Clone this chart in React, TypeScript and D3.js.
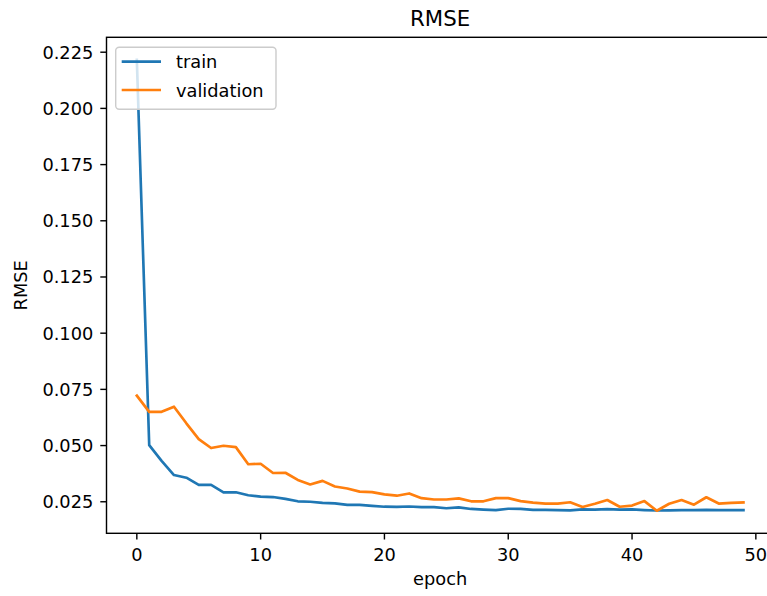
import * as d3 from 'd3'

// RMSE per epoch
const epochs = d3.range(0, 50)
const train = [
	0.2216, 0.0502, 0.0432, 0.0369, 0.0357, 0.0325, 0.0325, 0.0292, 0.0292, 0.0279,
	0.0273, 0.0271, 0.0263, 0.0252, 0.025, 0.0245, 0.0243, 0.0236, 0.0236, 0.0232,
	0.0228, 0.0227, 0.0229, 0.0226, 0.0226, 0.0221, 0.0225, 0.0218, 0.0215, 0.0213,
	0.0219, 0.0218, 0.0214, 0.0214, 0.0213, 0.0212, 0.0216, 0.0215, 0.0217, 0.0215,
	0.0216, 0.0213, 0.0211, 0.0212, 0.0213, 0.0213, 0.0214, 0.0213, 0.0213, 0.0213,
]
const validation = [
	0.0722, 0.065, 0.065, 0.0673, 0.0599, 0.0529, 0.0489, 0.0499, 0.0493, 0.0417,
	0.0419, 0.0378, 0.0379, 0.0347, 0.0327, 0.0343, 0.0318, 0.0309, 0.0295, 0.0293,
	0.0283, 0.0277, 0.0287, 0.0266, 0.026, 0.026, 0.0265, 0.0252, 0.0252, 0.0266,
	0.0266, 0.0253, 0.0246, 0.0242, 0.0242, 0.0248, 0.0227, 0.0241, 0.0258, 0.0228,
	0.0233, 0.0253, 0.021, 0.0241, 0.0258, 0.0237, 0.027, 0.0242, 0.0245, 0.0247,
]
const xTicks = [0, 10, 20, 30, 40, 50]
const yTicks = [0.025, 0.05, 0.075, 0.1, 0.125, 0.15, 0.175, 0.2, 0.225]
const seriesNames = ['train', 'validation']
const colors = ['#1f77b4', '#ff7f0e']

const width = 767
const height = 596
const left = 106.5
const right = 773.8
const top = 37.3
const bottom = 533.3
const font = 'DejaVu Sans, sans-serif'
const fs = 17.8

export default function App() {
	const allVals = train.concat(validation)
	const [ymin, ymax] = d3.extent(allVals) as [number, number]
	const ypad = (ymax - ymin) * 0.05
	const xpad = (d3.max(epochs)! - d3.min(epochs)!) * 0.05

	const x = d3
		.scaleLinear()
		.domain([d3.min(epochs)! - xpad, d3.max(epochs)! + xpad])
		.range([left, right])
	const y = d3
		.scaleLinear()
		.domain([ymin - ypad, ymax + ypad])
		.range([bottom, top])

	const line = d3
		.line<number>()
		.x((_, i) => x(epochs[i]))
		.y((d) => y(d))

	const series = [train, validation]
	const tickLen = 6.2

	return (
		<svg
			width={width}
			height={height}
			style={{ position: 'absolute', left: 0, top: 0, background: '#fff' }}
			fontFamily={font}
		>
			<rect x={0} y={0} width={width} height={height} fill="#fff" />
			<defs>
				<clipPath id="plot">
					<rect x={left} y={top} width={right - left} height={bottom - top} />
				</clipPath>
			</defs>

			{/* lines */}
			<g clipPath="url(#plot)">
				{series.map((s, i) => (
					<path
						key={seriesNames[i]}
						d={line(s) || ''}
						fill="none"
						stroke={colors[i]}
						strokeWidth={2.67}
						strokeLinejoin="round"
						strokeLinecap="square"
					/>
				))}
			</g>

			{/* spines */}
			<rect
				x={left}
				y={top}
				width={right - left}
				height={bottom - top}
				fill="none"
				stroke="#000"
				strokeWidth={1.42}
			/>

			{/* x axis */}
			{xTicks.map((t) => (
				<g key={'x' + t} transform={`translate(${x(t)},0)`}>
					<line y1={bottom} y2={bottom + tickLen} stroke="#000" strokeWidth={1.42} />
					<text y={561} textAnchor="middle" fontSize={fs} fill="#000">
						{t}
					</text>
				</g>
			))}
			<text x={(left + right) / 2} y={585} textAnchor="middle" fontSize={fs} fill="#000">
				epoch
			</text>

			{/* y axis */}
			{yTicks.map((t) => (
				<g key={'y' + t} transform={`translate(0,${y(t)})`}>
					<line x1={left - tickLen} x2={left} stroke="#000" strokeWidth={1.42} />
					<text x={left - tickLen - 7} y={6.5} textAnchor="end" fontSize={fs} fill="#000">
						{t.toFixed(3)}
					</text>
				</g>
			))}
			<text
				transform={`translate(27,${(top + bottom) / 2}) rotate(-90)`}
				textAnchor="middle"
				fontSize={fs}
				fill="#000"
			>
				RMSE
			</text>

			{/* title */}
			<text x={(left + right) / 2} y={26} textAnchor="middle" fontSize={21.3} fill="#000">
				RMSE
			</text>

			{/* legend */}
			<rect
				x={115.7}
				y={47.3}
				width={160.3}
				height={62}
				rx={3.5}
				fill="#fff"
				fillOpacity={0.8}
				stroke="#cccccc"
				strokeWidth={1.42}
			/>
			{seriesNames.map((name, i) => (
				<g key={name} transform={`translate(0,${61.7 + i * 28.3})`}>
					<line x1={121.7} x2={161} stroke={colors[i]} strokeWidth={2.67} />
					<text x={176} y={6.5} fontSize={fs} fill="#000">
						{name}
					</text>
				</g>
			))}
		</svg>
	)
}
